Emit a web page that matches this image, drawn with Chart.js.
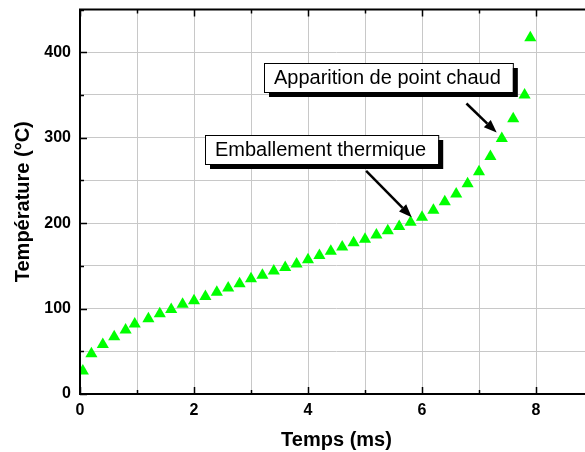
<!DOCTYPE html>
<html>
<head>
<meta charset="utf-8">
<script src="https://cdn.jsdelivr.net/npm/chart.js@4"></script>
<style>
  html, body { margin: 0; padding: 0; background: #fff; overflow: hidden; }
  #chart { display: block; }
</style>
</head>
<body>
<canvas id="chart" width="600" height="452"></canvas>
<script>
// temps (ms)
const timeMs = [0.05, 0.2, 0.4, 0.6, 0.8, 0.96, 1.2, 1.4, 1.6, 1.8, 2.0, 2.2, 2.4, 2.6, 2.8,
  3.0, 3.2, 3.4, 3.6, 3.8, 4.0, 4.2, 4.4, 4.6, 4.8, 5.0, 5.2, 5.4, 5.6, 5.8,
  6.0, 6.2, 6.4, 6.6, 6.8, 7.0, 7.2, 7.4, 7.6, 7.8, 7.9];
// température (°C)
const tempC = [27, 47, 58, 67, 75, 82, 88, 94, 99, 105, 109, 114, 119, 124, 129,
  135, 139, 144, 148, 152, 157, 162, 167, 172, 177, 181, 186, 191, 196, 201,
  207, 215, 225, 234, 246, 260, 278, 299, 322, 350, 417];

// annotations : texte, coin haut-gauche de la boite (données)
const labelTexts = ['Apparition de point chaud', 'Emballement thermique'];
const labelX = [3.23, 2.2];
const labelY = [387, 303];
// flèches : départ -> pointe (données)
const arrowFromX = [6.78, 5.02];
const arrowFromY = [340, 261];
const arrowToX = [7.31, 5.82];
const arrowToY = [306, 207];

const FONT = "'Liberation Sans', Arial, sans-serif";

const frameAndTicks = {
  id: 'frameAndTicks',
  afterDraw(chart) {
    const ctx = chart.ctx;
    const a = chart.chartArea;
    const xs = chart.scales.x, ys = chart.scales.y;
    ctx.save();
    ctx.strokeStyle = '#000';
    ctx.lineWidth = 1.5;
    // ticks vers l'intérieur
    xs.ticks.forEach(t => {
      const px = Math.round(xs.getPixelForValue(t.value)) + 0.5;
      const len = t.value % 2 === 0 ? 7 : 4;
      ctx.beginPath();
      ctx.moveTo(px, a.bottom); ctx.lineTo(px, a.bottom - len);
      ctx.moveTo(px, a.top); ctx.lineTo(px, a.top + len);
      ctx.stroke();
    });
    ys.ticks.forEach(t => {
      const py = Math.round(ys.getPixelForValue(t.value)) + 0.5;
      const len = t.value % 100 === 0 ? 7 : 4;
      ctx.beginPath();
      ctx.moveTo(a.left, py); ctx.lineTo(a.left + len, py);
      ctx.moveTo(a.right, py); ctx.lineTo(a.right - len, py);
      ctx.stroke();
    });
    // cadre
    ctx.lineWidth = 2;
    ctx.strokeRect(a.left, a.top, a.right - a.left, a.bottom - a.top);

    // annotations
    ctx.font = '20px ' + FONT;
    ctx.textBaseline = 'middle';
    labelTexts.forEach((txt, i) => {
      const bx = Math.round(xs.getPixelForValue(labelX[i]));
      const by = Math.round(ys.getPixelForValue(labelY[i]));
      const w = ctx.measureText(txt).width + 22;
      const h = 29;
      ctx.fillStyle = '#000';
      ctx.fillRect(bx + 5, by + 5, w, h);
      ctx.fillStyle = '#fff';
      ctx.fillRect(bx, by, w, h);
      ctx.lineWidth = 1;
      ctx.strokeStyle = '#000';
      ctx.strokeRect(bx + 0.5, by + 0.5, w, h);
      ctx.fillStyle = '#000';
      ctx.fillText(txt, bx + 10, by + h / 2 + 1);
    });
    arrowToX.forEach((_, i) => {
      const x1 = xs.getPixelForValue(arrowFromX[i]), y1 = ys.getPixelForValue(arrowFromY[i]);
      const x2 = xs.getPixelForValue(arrowToX[i]), y2 = ys.getPixelForValue(arrowToY[i]);
      const ang = Math.atan2(y2 - y1, x2 - x1);
      const hl = 13, hw = 5;
      const bxp = x2 - hl * Math.cos(ang), byp = y2 - hl * Math.sin(ang);
      ctx.strokeStyle = '#000';
      ctx.lineWidth = 2.5;
      ctx.beginPath();
      ctx.moveTo(x1, y1); ctx.lineTo(bxp, byp);
      ctx.stroke();
      ctx.fillStyle = '#000';
      ctx.beginPath();
      ctx.moveTo(x2, y2);
      ctx.lineTo(bxp + hw * Math.sin(ang), byp - hw * Math.cos(ang));
      ctx.lineTo(bxp - hw * Math.sin(ang), byp + hw * Math.cos(ang));
      ctx.closePath();
      ctx.fill();
    });
    ctx.restore();
  }
};

new Chart(document.getElementById('chart'), {
  type: 'scatter',
  data: {
    datasets: [{
      data: timeMs.map((t, i) => ({x: t, y: tempC[i]})),
      pointStyle: 'triangle',
      pointRadius: 7,
      backgroundColor: '#00ff00',
      borderColor: '#00ff00',
      borderWidth: 0
    }]
  },
  options: {
    responsive: false,
    animation: false,
    layout: {padding: {top: 0, right: 3, left: 0, bottom: 0}},
    plugins: {
      legend: {display: false},
      tooltip: {enabled: false}
    },
    scales: {
      x: {
        type: 'linear',
        min: 0, max: 9,
        afterFit: s => { s.height = 58; s.paddingRight = 0; s.paddingLeft = 0; },
        grid: {color: '#c8c8c8', lineWidth: 1, drawTicks: false},
        border: {display: false},
        ticks: {
          stepSize: 1, autoSkip: false, maxRotation: 0, padding: 7,
          color: '#000',
          font: {family: FONT, size: 16, weight: 'bold'},
          callback: v => (v % 2 === 0 ? v : '')
        },
        title: {
          display: true, text: 'Temps (ms)', color: '#000',
          font: {family: FONT, size: 20, weight: 'bold'},
          padding: {top: 0, bottom: 0}
        }
      },
      y: {
        min: 0, max: 450,
        afterFit: s => { s.width = 80; s.paddingTop = 9.5; s.paddingBottom = 0; },
        grid: {color: '#c8c8c8', lineWidth: 1, drawTicks: false},
        border: {display: false},
        ticks: {
          stepSize: 50, autoSkip: false, padding: 9,
          color: '#000',
          font: {family: FONT, size: 16, weight: 'bold'},
          callback: v => (v % 100 === 0 ? v : '')
        },
        title: {
          display: true, text: 'Température (°C)', color: '#000',
          font: {family: FONT, size: 20, weight: 'bold'},
          padding: {top: 11, bottom: 0}
        }
      }
    }
  },
  plugins: [frameAndTicks]
});
</script>
</body>
</html>
